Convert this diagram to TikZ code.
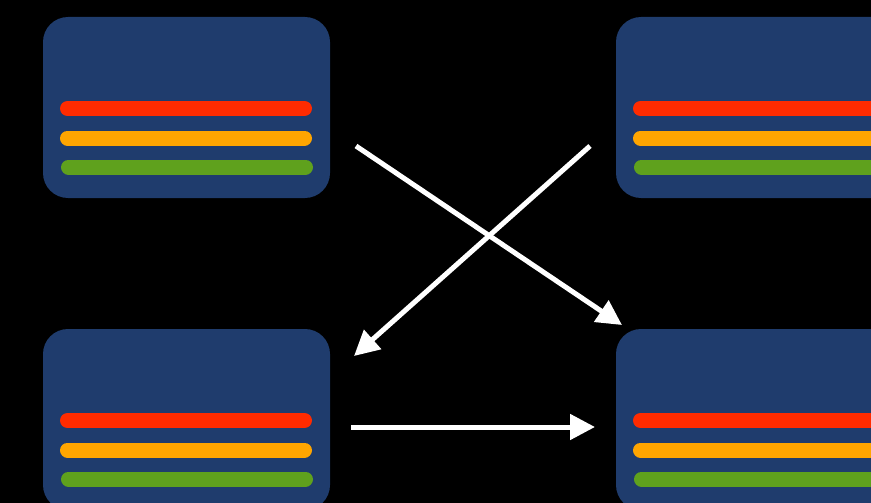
\documentclass[tikz,border=0pt]{standalone}
\usetikzlibrary{arrows.meta,calc}
\definecolor{boxblue}{HTML}{1F3C6D}
\definecolor{barred}{HTML}{FF2B00}
\definecolor{barorange}{HTML}{FFA500}
\definecolor{bargreen}{HTML}{5FA11D}
\tikzset{
  card/.style={fill=boxblue, draw=none, rounded corners=25pt, minimum width=287pt, minimum height=181pt, inner sep=0pt},
  bar/.style={line width=15pt, line cap=round},
  flow/.style={draw=white, line width=5pt, -{Triangle[length=25pt,width=25pt]}}
}
\begin{document}
\begin{tikzpicture}[x=1pt,y=-1pt]
\fill[black] (0,0) rectangle (871,503);
\clip (0,0) rectangle (871,503);
\useasboundingbox (0,0) rectangle (871,503);
\foreach \n/\cx/\cy in {tl/186.5/107.5, tr/759.5/107.5, bl/186.5/419.5, br/759.5/419.5}{
  \node[card] (\n) at (\cx,\cy) {};
  \draw[bar, barred] ($(\n.center)+(-119,1)$) -- ($(\n.center)+(118,1)$);
  \draw[bar, barorange] ($(\n.center)+(-119,30.5)$) -- ($(\n.center)+(118,30.5)$);
  \draw[bar, bargreen] ($(\n.center)+(-118,59.5)$) -- ($(\n.center)+(119,59.5)$);
}
\coordinate (a1s) at (356,146);
\coordinate (a1e) at (622,325);
\coordinate (a2s) at (590,146);
\coordinate (a2e) at (354,356);
\coordinate (a3s) at (351,427);
\coordinate (a3e) at (595,427);
\draw[flow] (a1s) -- (a1e);
\draw[flow] (a2s) -- (a2e);
\draw[flow] (a3s) -- (a3e);
\end{tikzpicture}
\end{document}
